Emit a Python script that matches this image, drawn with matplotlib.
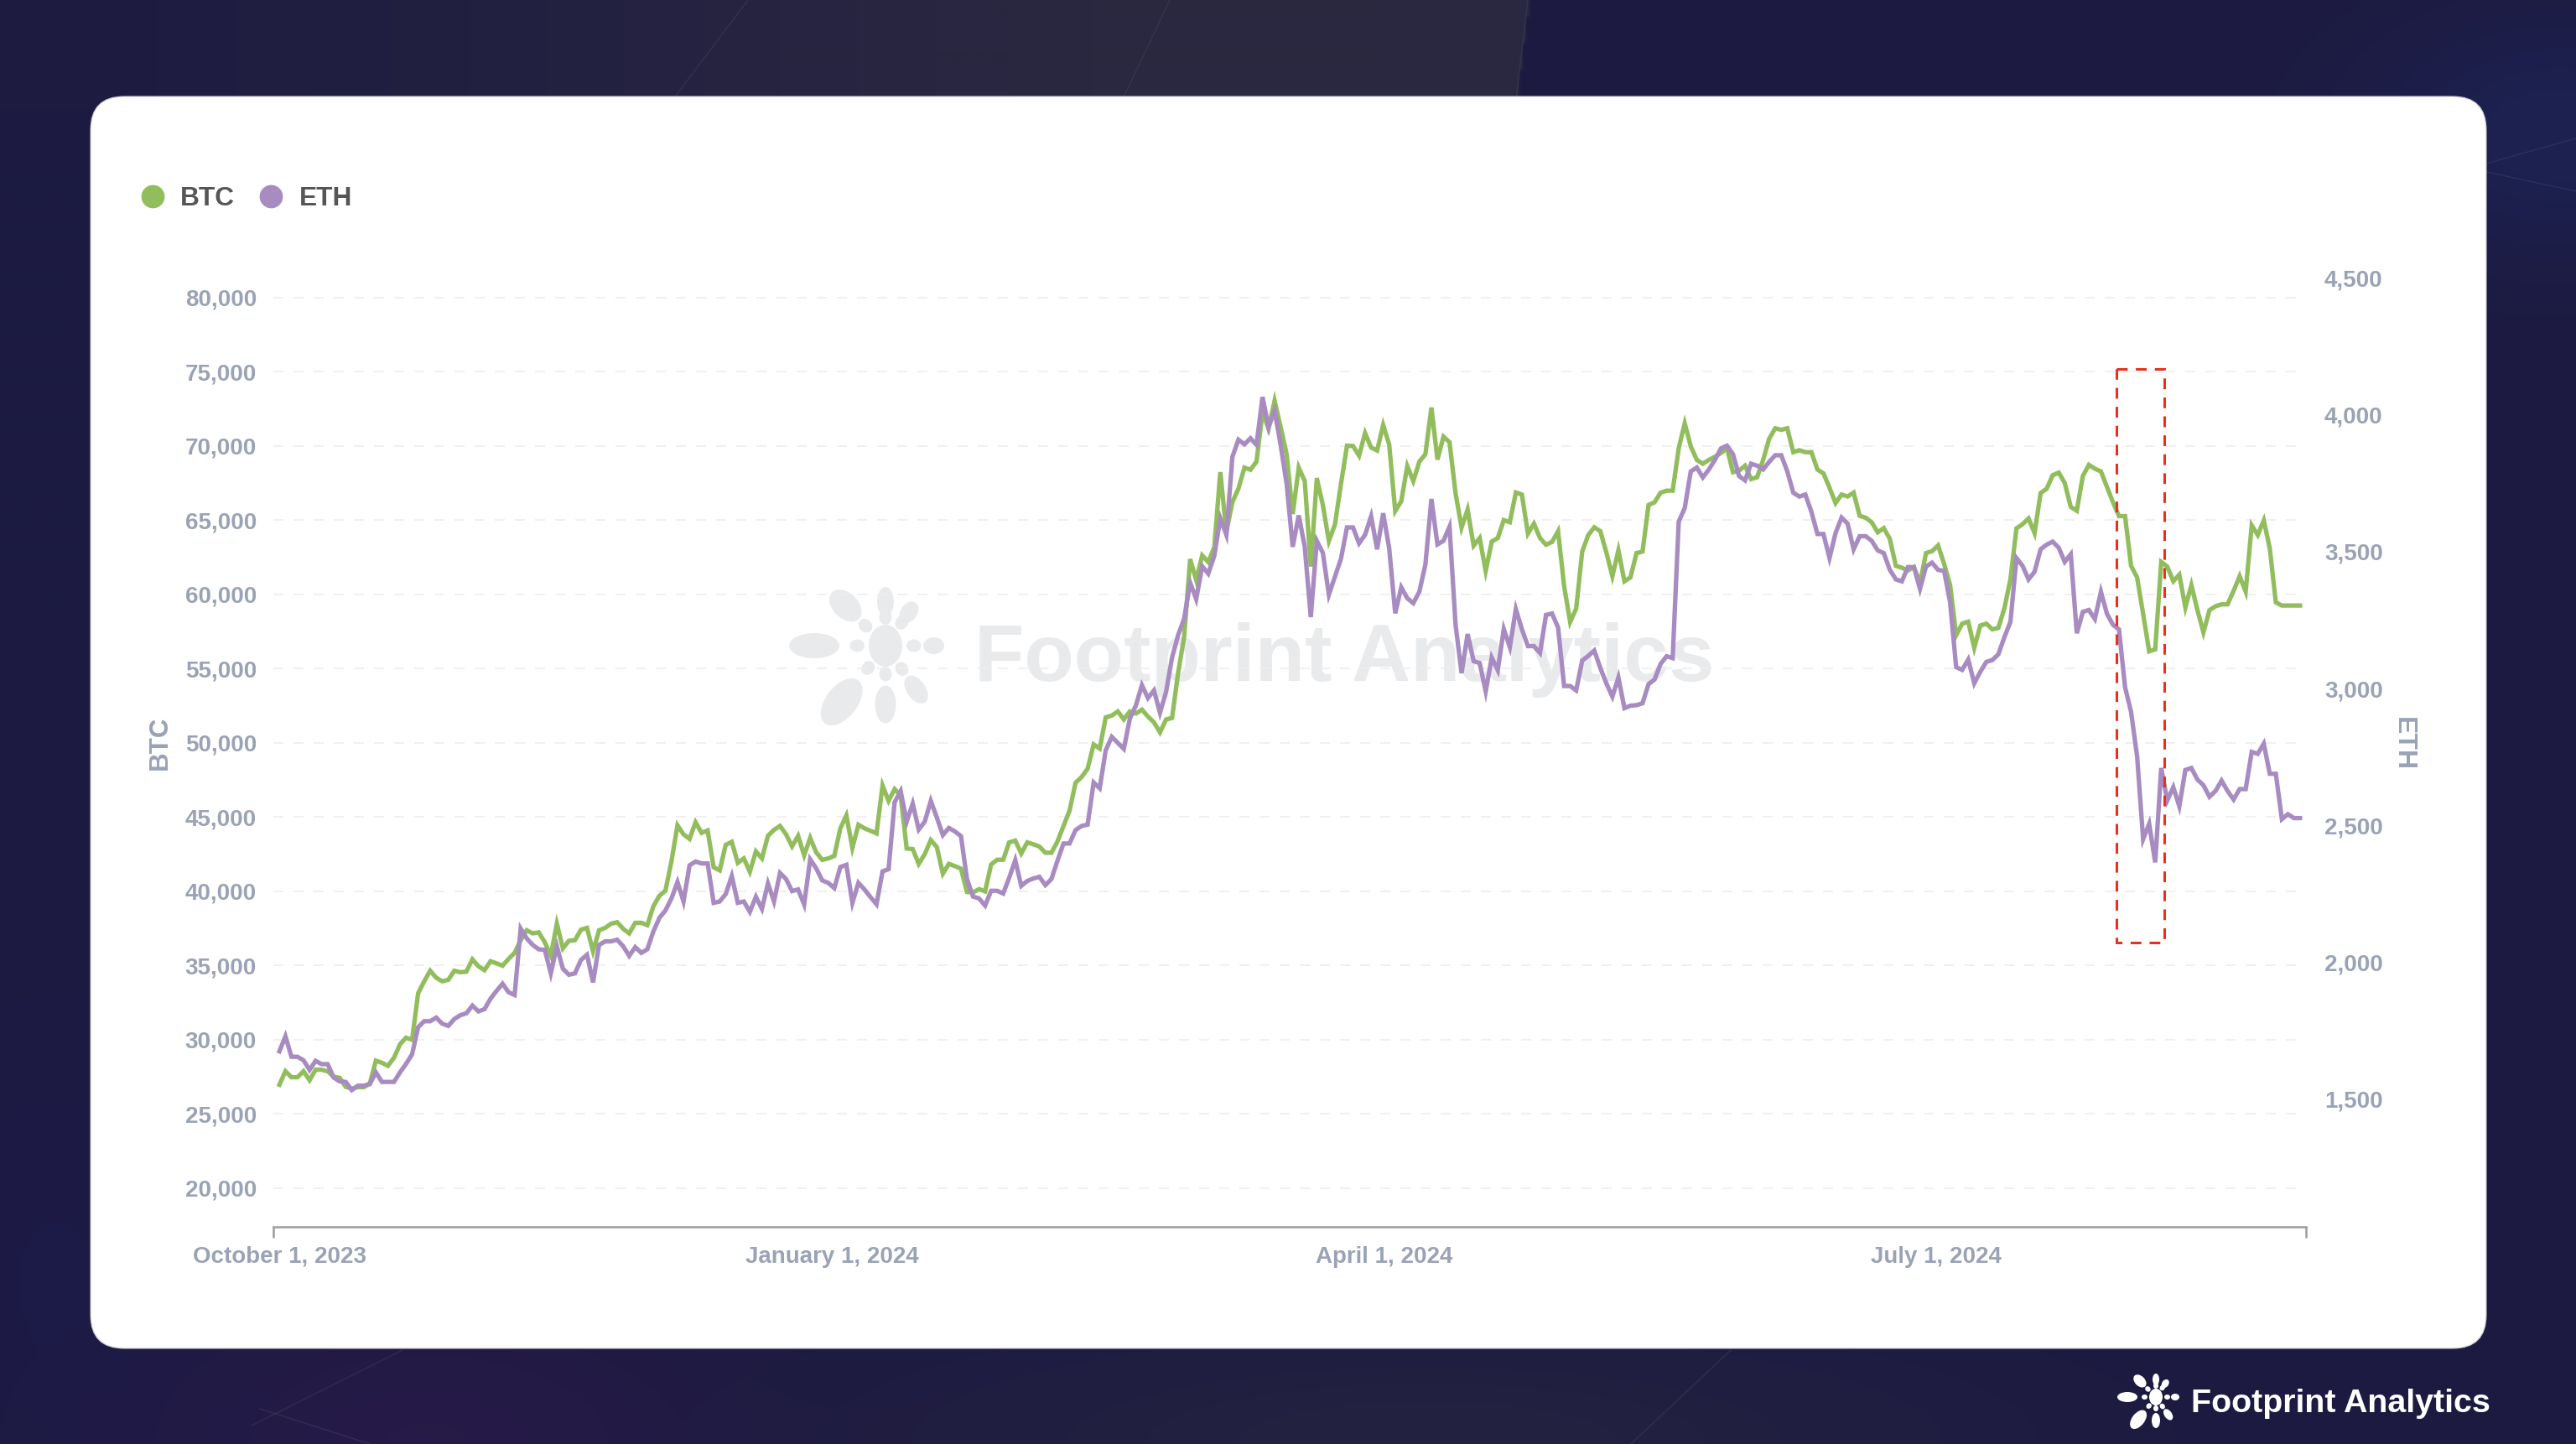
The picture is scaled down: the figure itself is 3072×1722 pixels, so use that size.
import numpy as np
import pandas as pd
import matplotlib
matplotlib.use("Agg")
import matplotlib.pyplot as plt
from matplotlib.lines import Line2D
from matplotlib.patches import Ellipse, FancyBboxPatch, Rectangle

# daily values, first point is October 1, 2023
btc = [26972, 27881, 27477, 27477, 27881, 27275, 27982, 27982, 27881, 27517,
       27437, 26830, 26710, 26810, 26810, 27070, 28590, 28450, 28245, 28790,
       29700, 30140, 30000, 33130, 33940, 34650, 34180, 33940, 34040, 34650,
       34550, 34590, 35420, 34950, 34690, 35290, 35150, 34990, 35450, 35860,
       36710, 37375, 37170, 37235, 36570, 35660, 37820, 36160, 36670, 36710,
       37415, 37535, 35960, 37375, 37535, 37820, 37920, 37475, 37170, 37880,
       37880, 37720, 38990, 39700, 40040, 42020, 44445, 43840, 43535, 44650,
       43940, 44100, 41615, 41415, 43130, 43335, 41920, 42220, 41315, 42690,
       42220, 43740, 44140, 44405, 43840, 43030, 43740, 42425, 43600, 42630,
       42120, 42220, 42385, 44245, 45110, 42930, 44485, 44245, 44080, 43900,
       47132, 46094, 46887, 46470, 42886, 42850, 41850, 42510, 43453, 42980,
       41190, 41850, 41700, 41530, 39960, 39925, 40150, 40000, 41810, 42130,
       42130, 43300, 43415, 42550, 43300, 43170, 43020, 42600, 42600, 43360,
       44400, 45430, 47320, 47700, 48260, 49900, 49620, 51720, 51840, 52120,
       51580, 52120, 51980, 52240, 51780, 51380, 50710, 51580, 51680, 54710,
       57130, 62385, 60970, 62630, 62180, 63190, 68240, 64200, 66220, 67130,
       68545, 68400, 68950, 72280, 71170, 73050, 71270, 69450, 65415, 68545,
       67635, 61880, 67840, 66020, 63600, 64710, 67435, 70020, 70000, 69350,
       70870, 69900, 69700, 71410, 70100, 65620, 66280, 68650, 67640, 68950,
       69450, 72590, 69090, 70630, 70260, 66830, 64505, 65720, 63290, 63800,
       61580, 63560, 63800, 65010, 64870, 66870, 66730, 64100, 64770, 63800,
       63350, 63540, 64260, 60570, 58140, 59050, 62890, 64000, 64525, 64265,
       62840, 61230, 62970, 60890, 61150, 62785, 62890, 66030, 66210, 66860,
       66990, 66990, 69845, 71530, 69975, 69065, 68805, 69065, 69275, 69530,
       69845, 68235, 68340, 68675, 67770, 67900, 69065, 70490, 71195, 71090,
       71195, 69585, 69715, 69585, 69585, 68415, 68155, 67195, 66160, 66730,
       66600, 66860, 65300, 65170, 64860, 64185, 64470, 63745, 61930, 61800,
       61620, 61850, 60760, 62785, 62915, 63305, 62060, 60630, 57260, 58035,
       58165, 56400, 57905, 58035, 57650, 57750, 59075, 61020, 64450, 64730,
       65120, 64135, 66830, 67120, 68030, 68210, 67510, 65900, 65640, 67975,
       68730, 68470, 68290, 67250, 66210, 65280, 65280, 61930, 61150, 58685,
       56170, 56300, 62190, 61880, 60890, 61330, 59125, 60630, 58945, 57440,
       58945, 59205, 59335, 59335, 60245, 61230, 60190, 64655, 64005, 64990,
       63100, 59465, 59255, 59255, 59255, 59255]

eth = [1673, 1728, 1653, 1653, 1640, 1605, 1638, 1626, 1626, 1577,
       1563, 1561, 1531, 1547, 1547, 1553, 1596, 1561, 1561, 1561,
       1596, 1627, 1662, 1761, 1783, 1783, 1796, 1774, 1766, 1791,
       1805, 1812, 1840, 1819, 1827, 1865, 1894, 1920, 1889, 1879,
       2122, 2086, 2062, 2046, 2044, 1958, 2057, 1975, 1953, 1958,
       2007, 2026, 1925, 2062, 2075, 2075, 2081, 2057, 2022, 2054,
       2033, 2046, 2111, 2161, 2188, 2232, 2292, 2221, 2353, 2367,
       2360, 2360, 2216, 2221, 2248, 2314, 2216, 2221, 2183, 2238,
       2194, 2287, 2221, 2325, 2303, 2259, 2265, 2210, 2375, 2342,
       2298, 2289, 2270, 2347, 2355, 2216, 2289, 2265, 2237, 2211,
       2331, 2339, 2584, 2625, 2513, 2579, 2484, 2513, 2589, 2528,
       2464, 2490, 2477, 2460, 2303, 2239, 2232, 2206, 2260, 2260,
       2250, 2308, 2372, 2278, 2296, 2305, 2311, 2281, 2303, 2370,
       2433, 2433, 2482, 2497, 2502, 2656, 2635, 2774, 2823, 2801,
       2779, 2889, 2938, 3012, 2965, 2993, 2911, 2987, 3113, 3195,
       3255, 3387, 3327, 3447, 3420, 3485, 3622, 3562, 3847, 3910,
       3893, 3915, 3891, 4066, 3956, 4016, 3891, 3748, 3518, 3633,
       3518, 3261, 3540, 3496, 3343, 3409, 3474, 3589, 3589, 3531,
       3562, 3630, 3509, 3641, 3513, 3275, 3370, 3330, 3312, 3354,
       3453, 3693, 3527, 3540, 3592, 3234, 3056, 3199, 3100, 3093,
       2989, 3113, 3067, 3217, 3151, 3290, 3217, 3155, 3155, 3130,
       3269, 3274, 3223, 3009, 3009, 2993, 3102, 3119, 3139, 3075,
       3019, 2970, 3040, 2928, 2937, 2939, 2946, 3016, 3033, 3090,
       3118, 3111, 3610, 3660, 3794, 3808, 3772, 3801, 3836, 3878,
       3888, 3857, 3777, 3761, 3822, 3815, 3801, 3829, 3853, 3853,
       3794, 3716, 3702, 3709, 3646, 3565, 3565, 3477, 3568, 3625,
       3603, 3509, 3557, 3557, 3540, 3505, 3495, 3434, 3399, 3392,
       3444, 3444, 3364, 3446, 3460, 3434, 3430, 3315, 3078, 3068,
       3106, 3019, 3061, 3097, 3104, 3125, 3188, 3244, 3477, 3449,
       3399, 3427, 3509, 3526, 3537, 3515, 3463, 3491, 3202, 3280,
       3287, 3254, 3354, 3273, 3233, 3216, 3005, 2914, 2752, 2449,
       2505, 2364, 2709, 2590, 2639, 2569, 2702, 2709, 2667, 2646,
       2604, 2625, 2663, 2625, 2594, 2632, 2632, 2768, 2761, 2798,
       2688, 2688, 2522, 2540, 2526, 2526]

btc_ticks = list(range(20000, 85000, 5000))
eth_ticks = list(range(1500, 5000, 500))
# the labels in the picture sit at equal spacing, not on the exact calendar day
label_days = [0, 91.6, 183.1, 274.7]
date_labels = ["October 1, 2023", "January 1, 2024", "April 1, 2024", "July 1, 2024"]

GREEN = "#91bd5d"
PURPLE = "#a78bc1"
AXIS_TEXT = "#9aa3b5"

W, H = 3072, 1722
plt.rcParams["font.family"] = ["Liberation Sans", "DejaVu Sans"]
fig = plt.figure(figsize=(W / 200, H / 200), dpi=200)

# background and card, drawn in pixel coordinates
bg = fig.add_axes([0, 0, 1, 1], zorder=0)
bg.axis("off")

yy, xx = np.mgrid[0:H:4, 0:W:4]
base = np.ones(xx.shape + (3,)) * np.array([0x1c, 0x1a, 0x40]) / 255


def blob(cx, cy, sx, sy, col):
    g = np.exp(-((xx - cx) / sx) ** 2 - ((yy - cy) / sy) ** 2)[..., None]
    return g * (np.array(col) / 255)


base += blob(3050, 160, 240, 150, (1, 8, 17))
base += blob(500, 1720, 330, 170, (10, 0, 8))
base += blob(1700, 1720, 620, 130, (8, 8, 1))
base += blob(60, 1500, 200, 300, (0, 1, 6))
top_mask = (xx < 1822 - yy * 0.12) & (yy < 130)
base[top_mask] += (np.clip(xx[top_mask] / 1300, 0.1, 1)[..., None]) * np.array([14, 14, 0]) / 255
bg.imshow(np.clip(base, 0, 1), extent=[0, W, H, 0], aspect="auto", zorder=0,
          interpolation="bilinear")
bg.set_xlim(0, W)
bg.set_ylim(H, 0)

# faint streaks of the backdrop
for (x0, y0, x1, y1) in [(892, 0, 803, 118), (1395, 0, 1339, 118), (1822, 0, 1808, 118),
                         (2064, 1610, 1945, 1722), (3072, 165, 2965, 195),
                         (2965, 205, 3072, 228), (300, 1700, 480, 1610), (310, 1680, 560, 1760)]:
    bg.plot([x0, x1], [y0, y1], color="#45435f", lw=0.5, alpha=0.45, zorder=1)

bg.add_patch(FancyBboxPatch((148, 155), 2777, 1413, boxstyle="round,pad=40,rounding_size=40",
                            fc="white", ec="#c4c4cc", lw=0.4, zorder=2))


def flower(cx, cy, scale, color, zorder):
    petals = [(0, 18, 28, 8), (55, 14, 25, 8), (90, 14, 28, 8), (135, 18, 36, 12),
              (180, 22, 46, 12), (232, 21, 47, 15), (270, 19, 37, 10), (305, 18, 33, 9)]
    bg.add_patch(Ellipse((cx, cy), 16 * scale, 20 * scale, fc=color, ec="none", zorder=zorder))
    for ang, r0, r1, wd in petals:
        a = np.deg2rad(ang)
        for ra, rb, w in [(r0, r1, wd), (10, 17, 6)]:
            rm = (ra + rb) / 2
            bg.add_patch(Ellipse((cx + rm * scale * np.cos(a), cy - rm * scale * np.sin(a)),
                                 (rb - ra) * scale, w * scale, angle=-ang,
                                 fc=color, ec="none", zorder=zorder))


flower(1056, 770, 2.5, "#e9eaec", 3)
bg.text(1162, 812, "Footprint Analytics", weight="bold", fontsize=35,
        color="#e9eaec", va="baseline", ha="left", zorder=3)

flower(2571, 1666, 1.0, "white", 3)
bg.text(2613, 1684, "Footprint Analytics", weight="bold", fontsize=14.2,
        color="white", va="baseline", ha="left", zorder=3)

# chart axes, left 326 to right 2750, bottom at 1463
ax = fig.add_axes([326 / W, 1 - 1463 / H, (2750 - 326) / W, (1463 - 300) / H], zorder=1)
ax.patch.set_alpha(0)
ax2 = ax.twinx()
ax2.patch.set_alpha(0)

dates = pd.date_range("2023-10-01", periods=len(btc), freq="D")
ax.plot(dates, btc, color=GREEN, lw=1.9, solid_joinstyle="miter", zorder=3)
ax2.plot(dates, eth, color=PURPLE, lw=1.9, solid_joinstyle="miter", zorder=3)

ax.set_xlim(dates[0] - pd.Timedelta(days=1), dates[-1] + pd.Timedelta(days=1))
ax.set_ylim(17400, 83100)
ax2.set_ylim(1031, 4598)

ax.set_yticks(btc_ticks)
ax.set_yticklabels([f"{v:,}" for v in btc_ticks])
ax2.set_yticks(eth_ticks)
ax2.set_yticklabels([f"{v:,}" for v in eth_ticks])
ax.set_xticks([dates[0] + pd.Timedelta(days=d) for d in label_days])
ax.set_xticklabels(date_labels)
ax.set_xticks([ax.get_xlim()[0], ax.get_xlim()[1]], minor=True)

ax.grid(axis="y", color="#eeeeee", lw=0.6, linestyle=(0, (7.2, 7.2)))
ax.set_axisbelow(True)
for s in ["top", "left", "right"]:
    ax.spines[s].set_visible(False)
    ax2.spines[s].set_visible(False)
ax2.spines["bottom"].set_visible(False)
ax.spines["bottom"].set_color("#9c9c9c")
ax.spines["bottom"].set_linewidth(0.9)

ax.tick_params(axis="y", length=0, pad=7.2, labelsize=10, labelcolor=AXIS_TEXT)
ax2.tick_params(axis="y", length=0, pad=7.9, labelsize=10, labelcolor=AXIS_TEXT)
ax.tick_params(axis="x", which="major", length=0, pad=8.2, labelsize=10, labelcolor=AXIS_TEXT)
ax.tick_params(axis="x", which="minor", length=4.7, width=0.9, color="#9c9c9c")
for t in ax.get_yticklabels() + ax2.get_yticklabels() + ax.get_xticklabels():
    t.set_fontweight("bold")

bg.text(191, 886, "BTC", rotation=90, ha="center", va="center", fontsize=11.3,
        weight="bold", color=AXIS_TEXT, zorder=3)
bg.text(2866, 887, "ETH", rotation=-90, ha="center", va="center", fontsize=11.5,
        weight="bold", color=AXIS_TEXT, zorder=3)

# red highlight around the August drop
ax2.add_patch(Rectangle((2524, 440), 57, 684, transform=bg.transData, fill=False, ec="#e8301f",
                        lw=1.1, linestyle=(0, (4.2, 3.2)), clip_on=False, zorder=5))

handles = [Line2D([], [], marker="o", ls="", ms=10, mec="none", color=GREEN, label="BTC"),
           Line2D([], [], marker="o", ls="", ms=10, mec="none", color=PURPLE, label="ETH")]
fig.legend(handles=handles, loc="center left", bbox_to_anchor=(166 / W, 1 - 237 / H),
           frameon=False, ncol=2, prop={"weight": "bold", "size": 11.4}, labelcolor="#555555",
           handlelength=1.0, handletextpad=0.55, columnspacing=0.87, borderpad=0, borderaxespad=0)

fig.savefig("out.png", dpi=200)
